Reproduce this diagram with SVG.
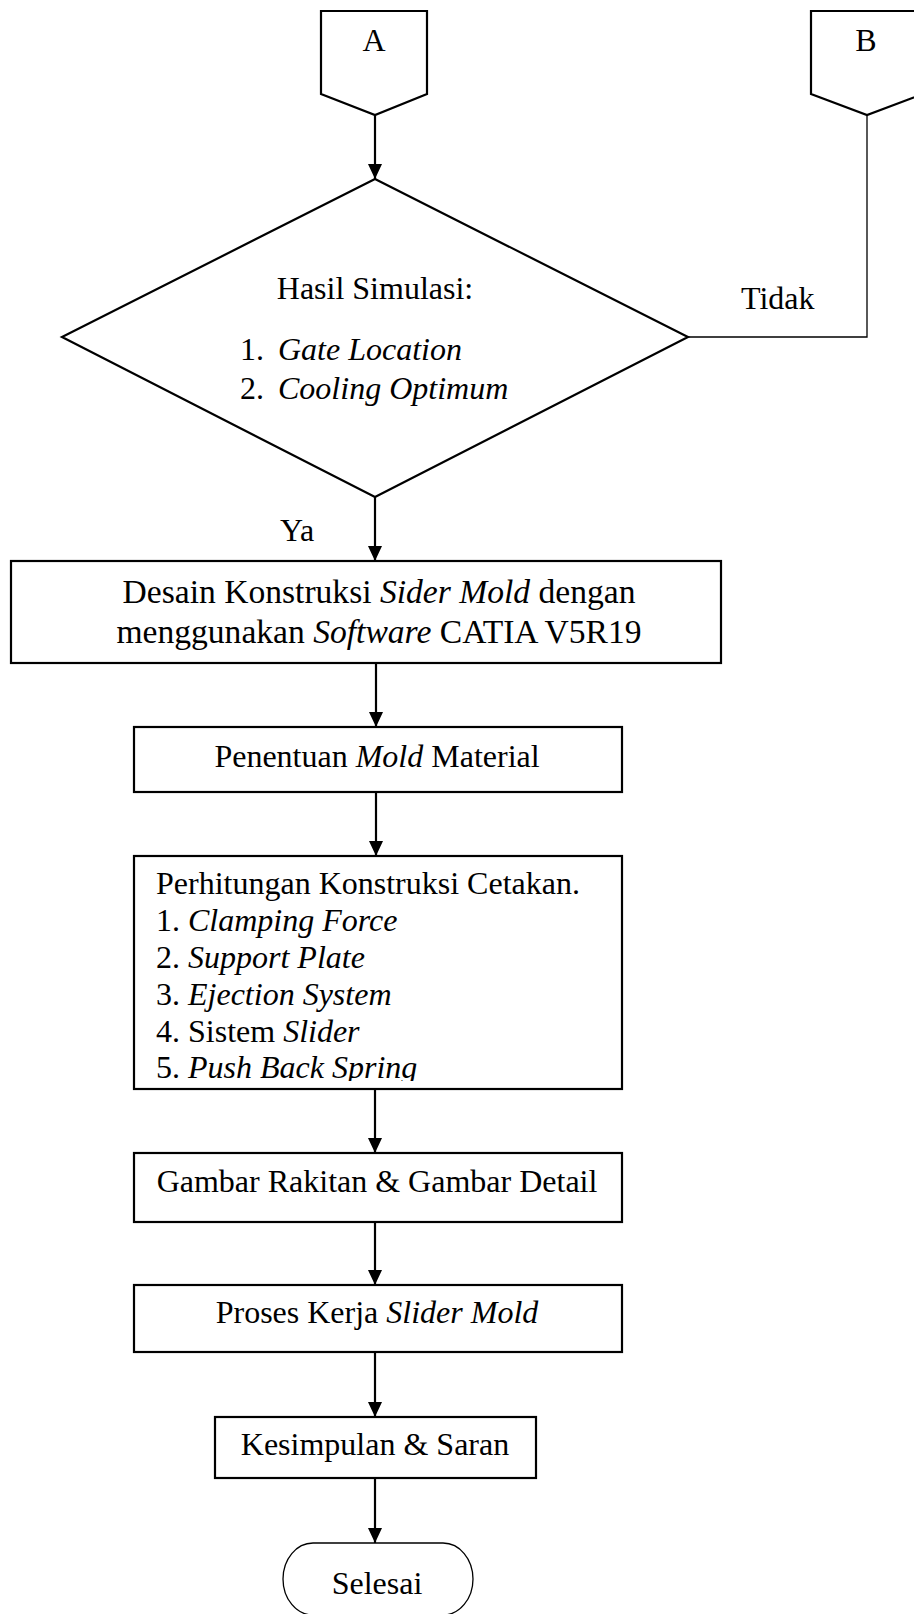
<svg xmlns="http://www.w3.org/2000/svg" width="914" height="1614" viewBox="0 0 914 1614">
<defs>
<style>
text{font-family:"Liberation Serif","Times New Roman",serif;font-size:32px;fill:#000}
.i{font-style:italic}
.big{font-size:33.6px}
.box{fill:#fff;stroke:#000;stroke-width:2.2}
.thin{fill:none;stroke:#000;stroke-width:1.3}
.ln{fill:none;stroke:#000;stroke-width:2.2}
</style>
<marker id="ah" viewBox="0 0 15 14" refX="15" refY="7" markerWidth="15" markerHeight="14" markerUnits="userSpaceOnUse" orient="auto">
<path d="M0,0 L15,7 L0,14 Z" fill="#000"/>
</marker>
<clipPath id="c3"><rect x="134" y="856" width="488" height="225"/></clipPath>
</defs>
<rect width="914" height="1614" fill="#fff"/>
<g id="connectors">
<line class="ln" x1="375" y1="115" x2="375" y2="179" marker-end="url(#ah)"/>
<line class="ln" x1="375" y1="497" x2="375" y2="561" marker-end="url(#ah)"/>
<line class="ln" x1="376" y1="663" x2="376" y2="727" marker-end="url(#ah)"/>
<line class="ln" x1="376" y1="792" x2="376" y2="856" marker-end="url(#ah)"/>
<line class="ln" x1="375" y1="1089" x2="375" y2="1153" marker-end="url(#ah)"/>
<line class="ln" x1="375" y1="1222" x2="375" y2="1285" marker-end="url(#ah)"/>
<line class="ln" x1="375" y1="1352" x2="375" y2="1417" marker-end="url(#ah)"/>
<line class="ln" x1="375" y1="1478" x2="375" y2="1543" marker-end="url(#ah)"/>
<polyline class="thin" points="867,115 867,337 688,337"/>
<text x="741" y="309">Tidak</text>
<text x="280" y="541">Ya</text>
</g>
<g id="nodeA">
<path class="box" d="M321,11 L427,11 L427,94 L375,115 L321,94 Z"/>
<text x="374" y="51" text-anchor="middle">A</text>
</g>
<g id="nodeB">
<path class="box" d="M811,11 L923,11 L923,94 L867,115 L811,94 Z"/>
<text x="866" y="51" text-anchor="middle">B</text>
</g>
<g id="decision">
<path class="box" d="M375,179 L688,337 L375,497 L62,337 Z"/>
<text x="375" y="299" text-anchor="middle">Hasil Simulasi:</text>
<text x="240" y="360">1.</text>
<text x="278" y="360" class="i">Gate Location</text>
<text x="240" y="399">2.</text>
<text x="278" y="399" class="i">Cooling Optimum</text>
</g>
<g id="box1">
<rect class="box" x="11" y="561" width="710" height="102"/>
<text class="big" x="379" y="603" text-anchor="middle">Desain Konstruksi <tspan class="i">Sider Mold</tspan> dengan</text>
<text class="big" x="379" y="643" text-anchor="middle">menggunakan <tspan class="i">Software</tspan> CATIA V5R19</text>
</g>
<g id="box2">
<rect class="box" x="134" y="727" width="488" height="65"/>
<text x="377" y="767" text-anchor="middle">Penentuan <tspan class="i">Mold</tspan> Material</text>
</g>
<g id="box3">
<rect class="box" x="134" y="856" width="488" height="233"/>
<g clip-path="url(#c3)">
<text x="156" y="894">Perhitungan Konstruksi Cetakan.</text>
<text x="156" y="931">1. <tspan class="i">Clamping Force</tspan></text>
<text x="156" y="968">2. <tspan class="i">Support Plate</tspan></text>
<text x="156" y="1005">3. <tspan class="i">Ejection System</tspan></text>
<text x="156" y="1042">4. Sistem <tspan class="i">Slider</tspan></text>
<text x="156" y="1078">5. <tspan class="i">Push Back Spring</tspan></text>
</g>
</g>
<g id="box4">
<rect class="box" x="134" y="1153" width="488" height="69"/>
<text x="377" y="1192" text-anchor="middle">Gambar Rakitan &amp; Gambar Detail</text>
</g>
<g id="box5">
<rect class="box" x="134" y="1285" width="488" height="67"/>
<text x="377" y="1323" text-anchor="middle">Proses Kerja <tspan class="i">Slider Mold</tspan></text>
</g>
<g id="box6">
<rect class="box" x="215" y="1417" width="321" height="61"/>
<text x="375" y="1455" text-anchor="middle">Kesimpulan &amp; Saran</text>
</g>
<g id="terminal">
<rect fill="#fff" stroke="#000" stroke-width="1.3" x="283" y="1543" width="190" height="72" rx="30" ry="36"/>
<text x="377" y="1594" text-anchor="middle">Selesai</text>
</g>
</svg>
